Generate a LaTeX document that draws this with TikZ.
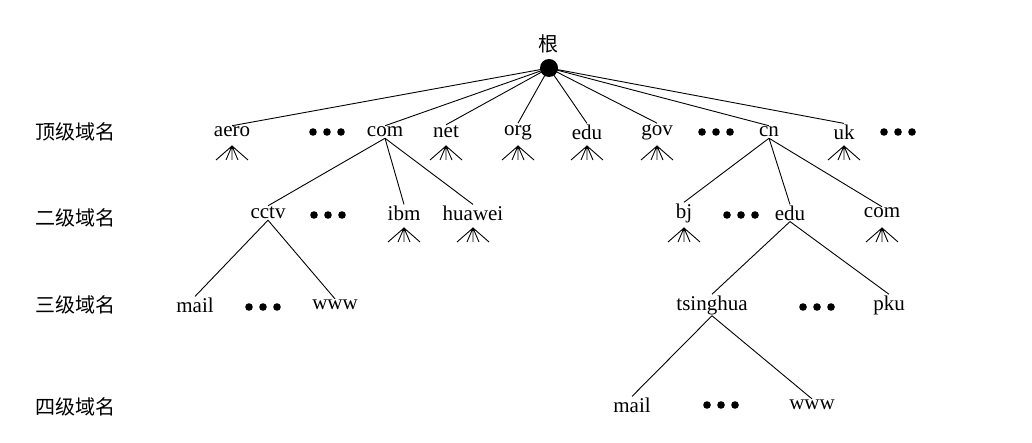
\documentclass[tikz,border=0pt]{standalone}
\usepackage{fontspec}
\setmainfont{Liberation Serif}
\newfontfamily\cjk{Noto Sans CJK SC}
\begin{document}
\begin{tikzpicture}[x=1pt,y=-1pt,
  lab/.style={font=\fontsize{21}{24}\selectfont, inner sep=1pt, anchor=center},
  cjklab/.style={font=\cjk\fontsize{20}{24}\selectfont, inner sep=0pt},
  ln/.style={line width=0.9pt}]
\useasboundingbox (0,0) rectangle (1032,443);
\newcommand\dotsat[2]{\fill (#1-14,#2) circle (3.8) (#1,#2) circle (3.8) (#1+14,#2) circle (3.8);}
\newcommand\fanat[2]{\draw[ln] (#1-16,#2+14) -- (#1,#2) -- (#1+16,#2+14) (#1-6,#2+14) -- (#1,#2) -- (#1+6,#2+14) (#1,#2) -- (#1,#2+14);}
% level labels
\node[cjklab] (l1) at (75,132) {顶级域名};
\node[cjklab] (l2) at (75,218) {二级域名};
\node[cjklab] (l3) at (75,305) {三级域名};
\node[cjklab] (l4) at (75,407) {四级域名};
% root
\node[cjklab] (rt) at (548,44) {根};
\fill (549,68) circle (9);
\coordinate (r) at (549,68);
% top level
\foreach \n/\t/\x in {aero/aero/232,com/com/385,net/net/446,org/org/518,edu/edu/587,gov/gov/657,cn/cn/769,uk/uk/844}{
  \node[lab] (\n) at (\x,132) {\t};
  \draw[ln] (r) -- (\n.north);
}
\dotsat{327}{132}\dotsat{716}{132}\dotsat{898}{132}
\foreach \x in {232,446,518,587,657,844} {\fanat{\x}{146}}
% second level
\node[lab] (cctv) at (268,213) {cctv};
\node[lab] (ibm) at (404,213) {ibm};
\node[lab] (huawei) at (473,213) {huawei};
\node[lab] (bj) at (684,213) {bj};
\node[lab] (edu2) at (790,213) {edu};
\node[lab] (com2) at (882,213) {com};
\dotsat{328}{215}\dotsat{741}{215}
\foreach \n in {cctv,ibm,huawei} \draw[ln] (com.south) -- (\n.north);
\foreach \n in {bj,edu2,com2} \draw[ln] (cn.south) -- (\n.north);
\foreach \x in {404,473,684,882} {\fanat{\x}{228}}
% third level
\node[lab] (mail1) at (195,305) {mail};
\node[lab] (www1) at (335,305) {www};
\node[lab] (tsinghua) at (712,305) {tsinghua};
\node[lab] (pku) at (889,305) {pku};
\dotsat{263}{307}\dotsat{817}{307}
\draw[ln] (cctv.south) -- (mail1.north);
\draw[ln] (cctv.south) -- (www1.north);
\draw[ln] (edu2.south) -- (tsinghua.north);
\draw[ln] (edu2.south) -- (pku.north);
% fourth level
\node[lab] (mail2) at (632,405) {mail};
\node[lab] (www2) at (812,405) {www};
\dotsat{721}{405}
\draw[ln] (tsinghua.south) -- (mail2.north);
\draw[ln] (tsinghua.south) -- (www2.north);
\end{tikzpicture}
\end{document}
